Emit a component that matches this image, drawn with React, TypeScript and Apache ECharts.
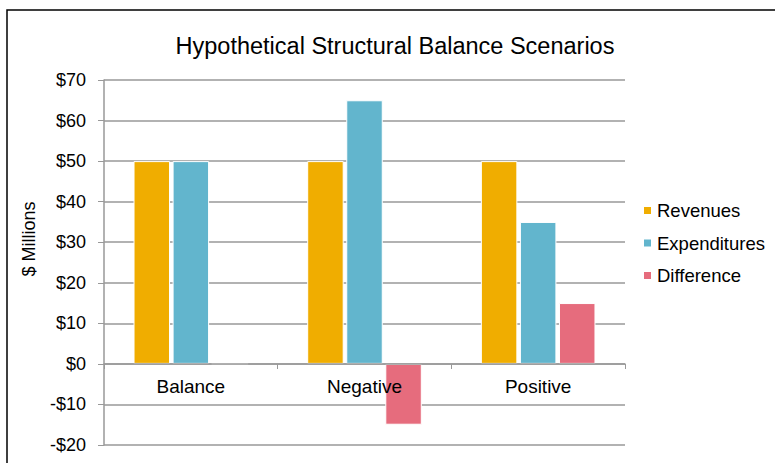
import React, { useEffect, useRef } from "react";
import * as echarts from "echarts";

const categories = ["Balance", "Negative", "Positive"];
const revenues = [50, 50, 50];
const expenditures = [50, 65, 35];
const difference = [0, -15, 15];
const seriesNames = ["Revenues", "Expenditures", "Difference"];
const colors = ["#F0AD00", "#62B5CD", "#E66C7D"];
const titleText = "Hypothetical Structural Balance Scenarios";
const yAxisTitle = "$ Millions";
const yMin = -20;
const yMax = 70;

const FONT = "'Liberation Sans', Arial, sans-serif";

export default function App() {
  const ref = useRef<HTMLDivElement>(null);
  useEffect(() => {
    if (!ref.current) return;
    const chart = echarts.init(ref.current, null, { renderer: "svg" });
    const values = [revenues, expenditures, difference];
    const gridTop = 80;
    const gridBottom = 18;
    const plotH = 463 - gridTop - gridBottom;
    // shift the category axis (with its labels) up to the zero line
    const zeroOffset = -Math.round((plotH * (0 - yMin)) / (yMax - yMin));
    chart.setOption({
      animation: false,
      backgroundColor: "#fff",
      textStyle: { fontFamily: FONT },
      title: {
        text: titleText,
        left: 390,
        textAlign: "center",
        top: 29,
        textStyle: { fontFamily: FONT, fontSize: 23.5, fontWeight: "normal", color: "#000" },
      },
      legend: {
        orient: "vertical",
        left: 637,
        top: 196,
        itemWidth: 9,
        itemHeight: 9,
        itemGap: 13.5,
        icon: "rect",
        textStyle: { fontFamily: FONT, fontSize: 18.5, color: "#000" },
        data: seriesNames,
      },
      grid: {
        left: 104,
        top: gridTop,
        right: 150,
        bottom: gridBottom,
        containLabel: false,
        outerBoundsMode: "none",
      },
      xAxis: {
        type: "category",
        data: categories,
        offset: zeroOffset,
        z: 5,
        axisLine: { onZero: false, lineStyle: { color: "#999", width: 1.5 } },
        axisTick: { show: true, length: 5, lineStyle: { color: "#999" } },
        axisLabel: { fontFamily: FONT, fontSize: 19, color: "#000", margin: 13 },
      },
      yAxis: {
        type: "value",
        min: yMin,
        max: yMax,
        interval: 10,
        axisLine: { show: true, lineStyle: { color: "#999", width: 1.5 } },
        axisTick: { show: true, length: 6, lineStyle: { color: "#999" } },
        splitLine: { show: true, lineStyle: { color: "#999", width: 1.5 } },
        axisLabel: {
          fontFamily: FONT,
          fontSize: 18,
          color: "#000",
          margin: 18,
          formatter: (v: number) => (v < 0 ? "-$" + -v : "$" + v),
        },
      },
      series: seriesNames.map((name, i) => ({
        name,
        type: "bar",
        data: values[i],
        barWidth: 36.5,
        barGap: "7%",
        itemStyle: { color: colors[i], borderColor: "#fff", borderWidth: 1 },
      })),
      graphic: [
        {
          type: "rect",
          shape: { x: 7, y: 10, width: 820, height: 520 },
          style: { fill: "none", stroke: "#000", lineWidth: 1.5 },
          silent: true,
        },
        {
          type: "text",
          x: 29,
          y: 239,
          rotation: Math.PI / 2,
          style: {
            text: yAxisTitle,
            font: "18px " + FONT,
            fill: "#000",
            align: "center",
            verticalAlign: "middle",
          },
        },
      ],
    });
    return () => chart.dispose();
  }, []);
  return (
    <div
      ref={ref}
      style={{ position: "absolute", left: 0, top: 0, width: 775, height: 463 }}
    />
  );
}
